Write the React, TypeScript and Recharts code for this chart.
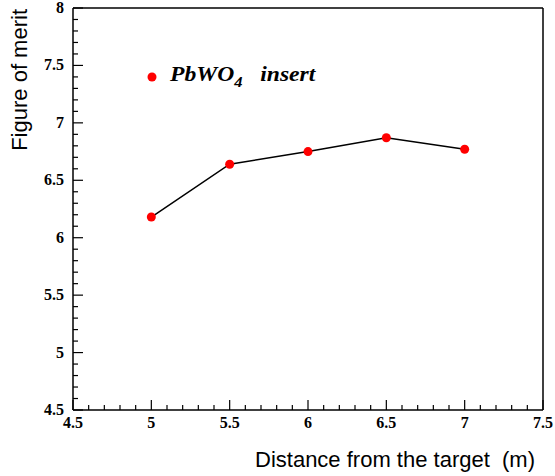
import React from 'react';
import {
  LineChart,
  Line,
  XAxis,
  YAxis,
  ReferenceLine,
} from 'recharts';

// Distance from the target (m) and figure of merit
const DISTANCES: number[] = [5, 5.5, 6, 6.5, 7];
const MERIT: number[] = [6.18, 6.64, 6.75, 6.87, 6.77];

// Major tick labels
const X_MAJOR: number[] = [4.5, 5, 5.5, 6, 6.5, 7, 7.5];
const Y_MAJOR: number[] = [4.5, 5, 5.5, 6, 6.5, 7, 7.5, 8];

const DATA = DISTANCES.map((d, i) => ({ distance: d, merit: MERIT[i] }));

// 4 minor ticks between each pair of majors
const subdivide = (majors: number[]) => {
  const out: number[] = [];
  for (let i = 0; i < majors.length - 1; i++) {
    for (let k = 0; k < 5; k++) {
      out.push(Math.round((majors[i] + ((majors[i + 1] - majors[i]) * k) / 5) * 100) / 100);
    }
  }
  out.push(majors[majors.length - 1]);
  return out;
};

const X_TICKS = subdivide(X_MAJOR);
const Y_TICKS = subdivide(Y_MAJOR);

const isMajor = (v: number, majors: number[]) => majors.some((m) => Math.abs(m - v) < 1e-6);

const TICK_FONT = {
  fontFamily: '"Liberation Serif", "Times New Roman", serif',
  fontWeight: 700,
  fontSize: 16,
  fill: '#000',
};

const XTick = (props: any) => {
  const { x, y, payload } = props;
  const major = isMajor(payload.value, X_MAJOR);
  return (
    <g>
      <line x1={x} x2={x} y1={y} y2={y - (major ? 10 : 5)} stroke="#000" strokeWidth={1.2} />
      {major && (
        <text x={x} y={y + 18} textAnchor="middle" {...TICK_FONT}>
          {String(payload.value)}
        </text>
      )}
    </g>
  );
};

const YTick = (props: any) => {
  const { x, y, payload } = props;
  const major = isMajor(payload.value, Y_MAJOR);
  return (
    <g>
      <line x1={x} x2={x + (major ? 10 : 5)} y1={y} y2={y} stroke="#000" strokeWidth={1.2} />
      {major && (
        <text x={x - 9} y={y + 5} textAnchor="end" {...TICK_FONT}>
          {String(payload.value)}
        </text>
      )}
    </g>
  );
};

const LegendBox = () => (
  <div
    style={{
      position: 'absolute',
      left: 147,
      top: 63,
      display: 'flex',
      alignItems: 'center',
      fontFamily: '"Liberation Serif", "Times New Roman", serif',
      fontWeight: 700,
      fontStyle: 'italic',
      fontSize: 20,
      color: '#000',
    }}
  >
    <svg width={10} height={10} style={{ marginRight: 13 }}>
      <circle cx={5} cy={5} r={4.5} fill="#ff0000" />
    </svg>
    <span style={{ display: 'inline-block', transform: 'scaleX(1.18)', transformOrigin: 'left center' }}>
      PbWO<sub style={{ fontSize: 14, verticalAlign: -6 }}>4</sub>
      <span style={{ marginLeft: 15 }}>insert</span>
    </span>
  </div>
);

const SANS = '"Liberation Sans", Arial, Helvetica, sans-serif';

export default function App() {
  return (
    <div style={{ position: 'absolute', left: 0, top: 0, width: 555, height: 476, background: '#fff' }}>
      <LineChart
        width={555}
        height={476}
        data={DATA}
        margin={{ top: 8, right: 12, left: 0, bottom: 0 }}
      >
        <XAxis
          dataKey="distance"
          type="number"
          domain={[4.5, 7.5]}
          ticks={X_TICKS}
          interval={0}
          tickSize={0}
          tickMargin={0}
          tickLine={false}
          height={66}
          axisLine={{ stroke: '#000', strokeWidth: 1.5 }}
          tick={<XTick />}
          label={{
            content: () => (
              <text x={535} y={467} textAnchor="end" fontFamily={SANS} fontSize={22} fill="#000">
                {'Distance from the target\u00a0\u00a0(m)'}
              </text>
            ),
          }}
        />
        <YAxis
          type="number"
          domain={[4.5, 8]}
          ticks={Y_TICKS}
          interval={0}
          tickSize={0}
          tickMargin={0}
          tickLine={false}
          width={73}
          axisLine={{ stroke: '#000', strokeWidth: 1.5 }}
          tick={<YTick />}
          label={{
            content: () => (
              <text
                x={27}
                y={9}
                transform="rotate(-90 27 9)"
                textAnchor="end"
                fontFamily={SANS}
                fontSize={22}
                fill="#000"
              >
                Figure of merit
              </text>
            ),
          }}
        />
        <ReferenceLine y={8} stroke="#000" strokeWidth={1.5} />
        <ReferenceLine x={7.5} stroke="#000" strokeWidth={1.5} />
        <Line
          dataKey="merit"
          stroke="#000"
          strokeWidth={1.5}
          dot={{ r: 4.5, fill: '#ff0000', stroke: '#ff0000', strokeWidth: 0 }}
          isAnimationActive={false}
        />
      </LineChart>
      <LegendBox />
    </div>
  );
}
